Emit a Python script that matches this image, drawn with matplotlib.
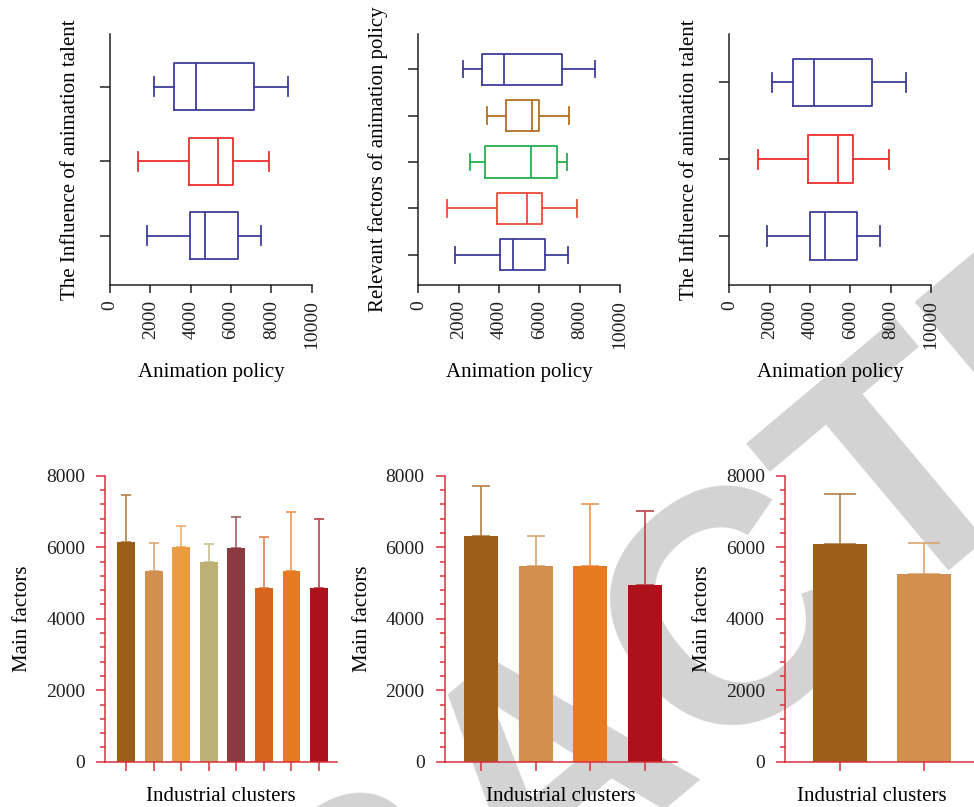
import matplotlib
matplotlib.use("Agg")
import matplotlib.pyplot as plt
import numpy as np
from matplotlib.ticker import MultipleLocator
from matplotlib import colors as mcolors

plt.rcParams['font.family'] = ['Liberation Serif', 'DejaVu Serif']
plt.rcParams['font.size'] = 14
plt.rcParams['text.color'] = '#231f20'
plt.rcParams['xtick.labelcolor'] = '#231f20'
plt.rcParams['ytick.labelcolor'] = '#231f20'

# box stats per row: whisker low, Q1, median, Q3, whisker high (bottom box first)
talent_stats = [
    [1840, 3980, 4710, 6330, 7470],
    [1400, 3930, 5370, 6120, 7880],
    [2180, 3190, 4250, 7160, 8810],
]
talent_colors = ['#3d3d9a', '#ee2e2e', '#3d3d9a']

policy_stats = [
    [1840, 4030, 4710, 6300, 7420],
    [1400, 3900, 5400, 6120, 7880],
    [2560, 3320, 5570, 6880, 7370],
    [3400, 4330, 5640, 5980, 7470],
    [2230, 3140, 4250, 7140, 8760],
]
policy_colors = ['#3d3d9a', '#f04a38', '#22b04e', '#b36f22', '#3d3d9a']

talent2_stats = [
    [1850, 3980, 4730, 6350, 7470],
    [1400, 3920, 5370, 6120, 7900],
    [2100, 3140, 4200, 7090, 8760],
]
talent2_colors = ['#3d3d9a', '#ee2e2e', '#3d3d9a']

# bar charts: mean and upper error per cluster
clusters8_mean = [6150, 5330, 6000, 5580, 5980, 4860, 5330, 4860]
clusters8_sd = [1320, 800, 600, 510, 870, 1430, 1660, 1930]
clusters8_colors = ['#9c5f1a', '#d18f50', '#eb9b42', '#bdb077',
                    '#8b3a3f', '#d6641e', '#e87a22', '#ad121c']

clusters4_mean = [6320, 5480, 5480, 4940]
clusters4_sd = [1390, 830, 1720, 2060]
clusters4_colors = ['#9c5f1a', '#d18f50', '#e87a22', '#ad121c']

clusters2_mean = [6090, 5250]
clusters2_sd = [1400, 860]
clusters2_colors = ['#9c5f1a', '#d18f50']

RED = '#d8303c'
INK = '#231f20'

fig = plt.figure(figsize=(9.74, 8.07), dpi=100)
fig.set_facecolor('white')

# watermark across the sheet, behind everything
fig.text(0.572, 0.046, 'RETRACTED', rotation=40, rotation_mode='anchor',
         ha='center', va='center', fontsize=238, fontweight='bold',
         family='Liberation Sans', color='#d3d3d3', zorder=-5)


def lighten(c, amt=0.25):
    rgb = np.array(mcolors.to_rgb(c))
    return tuple(rgb + (1 - rgb) * amt)


def box_panel(rect, stats, cols, ylim, box_h, cap_w, ylabel):
    ax = fig.add_axes(rect)
    ax.set_facecolor('none')
    for i, (s, c) in enumerate(zip(stats, cols)):
        lo, q1, med, q3, hi = s
        line = dict(color=c, linewidth=1.3)
        ax.bxp([dict(whislo=lo, q1=q1, med=med, q3=q3, whishi=hi, fliers=[])],
               positions=[i + 1], widths=box_h, capwidths=cap_w,
               orientation='horizontal', showfliers=False, manage_ticks=False,
               boxprops=line, whiskerprops=line, capprops=line,
               medianprops=line)
    ax.set_xlim(0, 10000)
    ax.set_ylim(*ylim)
    ax.set_xticks(np.arange(0, 10001, 2000))
    ax.set_yticks(range(1, len(stats) + 1))
    ax.set_yticklabels([])
    ax.tick_params(axis='x', labelrotation=90, length=6, width=1.1,
                   pad=5, color=INK, labelsize=14)
    ax.tick_params(axis='y', length=7, width=1.1, color=INK)
    for side in ['top', 'right']:
        ax.spines[side].set_visible(False)
    for side in ['left', 'bottom']:
        ax.spines[side].set_linewidth(1.1)
        ax.spines[side].set_color(INK)
    ax.set_xlabel('Animation policy', fontsize=15)
    ax.xaxis.set_label_coords(0.5, -0.311)
    ax.set_ylabel(ylabel, fontsize=15)
    ax.yaxis.set_label_coords(-0.15, 0.5)
    return ax


def bar_panel(rect, means, sds, cols, xlim, bar_w, capsize, xlabel_x=0.5):
    ax = fig.add_axes(rect)
    ax.set_facecolor('none')
    x = np.arange(len(means))
    ax.bar(x, means, width=bar_w, color=cols, zorder=2)
    for xi, m, s, c in zip(x, means, sds, cols):
        ax.errorbar([xi], [m], yerr=[[0], [s]], fmt='none',
                    ecolor=lighten(c, 0.2), elinewidth=1.2, capsize=capsize,
                    capthick=1.2, zorder=1)
    ax.set_xlim(*xlim)
    ax.set_ylim(0, 8000)
    ax.set_xticks(x)
    ax.set_xticklabels([])
    ax.set_yticks(np.arange(0, 8001, 2000))
    ax.yaxis.set_minor_locator(MultipleLocator(400))
    ax.tick_params(axis='x', length=6.5, width=1.1, color=RED)
    ax.tick_params(axis='y', which='major', length=6.5, width=1.1,
                   color=RED, pad=8, labelsize=14)
    ax.tick_params(axis='y', which='minor', length=3.6, width=1.1, color=RED)
    for side in ['top', 'right']:
        ax.spines[side].set_visible(False)
    for side in ['left', 'bottom']:
        ax.spines[side].set_linewidth(1.1)
        ax.spines[side].set_color(RED)
    ax.set_xlabel('Industrial clusters', fontsize=15)
    ax.xaxis.set_label_coords(xlabel_x, -0.088)
    ax.set_ylabel('Main factors', fontsize=15)
    ax.yaxis.set_label_coords(-0.315, 0.5)
    return ax


top_b, top_h = 0.6468, 0.3110
box_panel([0.11294, top_b, 0.20709, top_h], talent_stats, talent_colors,
          (0.34, 3.705), 0.63, 0.25, 'The Influence of animation talent')
box_panel([0.42947, top_b, 0.20709, top_h], policy_stats, policy_colors,
          (0.352, 5.756), 0.67, 0.35, 'Relevant factors of animation policy')
box_panel([0.74877, top_b, 0.20709, top_h], talent2_stats, talent2_colors,
          (0.36, 3.63), 0.62, 0.25, 'The Influence of animation talent')

bot_b, bot_h = 0.05613, 0.3544
bar_panel([0.10811, bot_b, 0.23789, bot_h], clusters8_mean, clusters8_sd,
          clusters8_colors, (-0.75, 7.65), 0.65, 3.6)
bar_panel([0.45657, bot_b, 0.2385, bot_h], clusters4_mean, clusters4_sd,
          clusters4_colors, (-0.665, 3.59), 0.62, 6.8)
bar_panel([0.80595, bot_b, 0.2385, bot_h], clusters2_mean, clusters2_sd,
          clusters2_colors, (-0.652, 2.10), 0.64, 11.5, xlabel_x=0.375)

fig.savefig('out.png', dpi=100)
